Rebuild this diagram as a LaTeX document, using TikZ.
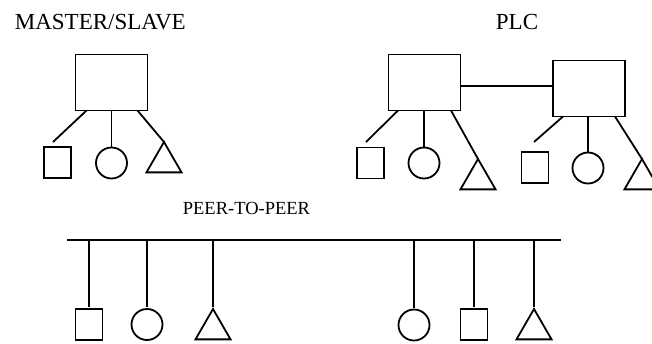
\documentclass[tikz,border=0pt]{standalone}
\usepackage{fontspec}
\setmainfont{Liberation Serif}
\usetikzlibrary{shapes.geometric,calc}
\begin{document}
\begin{tikzpicture}[x=1pt,y=-1pt,line width=1.8pt,
  box/.style={draw,rectangle,minimum width=72pt,minimum height=56pt,inner sep=0pt,outer sep=0pt},
  sq/.style={draw,rectangle,minimum width=27pt,minimum height=31pt,inner sep=0pt,outer sep=0pt},
  circ/.style={draw,circle,minimum size=31pt,inner sep=0pt,outer sep=0pt},
  tri/.style={draw,regular polygon,regular polygon sides=3,minimum size=40.5pt,inner sep=0pt,outer sep=0pt,anchor=corner 1},
  biglbl/.style={font=\fontsize{23}{23}\selectfont,inner sep=0pt,anchor=base west},
  smalllbl/.style={font=\fontsize{18.5}{18.5}\selectfont,inner sep=0pt,anchor=base west},
  drop/.style={shorten >=2pt}]
\useasboundingbox (0,0) rectangle (652,343);
\clip (0,0) rectangle (652,343);

% labels
\node[biglbl] (lms) at (14,29) {MASTER/SLAVE};
\node[biglbl] (lplc) at (495,29) {PLC};
\node[smalllbl] (lpp) at (182,214) {PEER-TO-PEER};

% master/slave
\node[box] (m) at (111.5,82.5) {};
\node[sq] (ms) at (57.5,162.5) {};
\coordinate (mse) at (53,142);
\node[circ] (mc) at (111.5,163) {};
\node[tri] (mt) at (164,142) {};
\draw ($(m.south)+(-25,0)$) -- (mse);
\draw (mc.north |- m.south) -- (mc.north);
\draw ($(m.south)+(26,0)$) -- (mt.corner 1);

% PLC
\node[box] (p1) at (424.5,82.5) {};
\node[box] (p2) at (589,88.5) {};
\draw ([yshift=-3.5pt]p1.east) -- ([yshift=2.5pt]p2.west);

\node[sq] (p1s) at (370.5,163) {};
\coordinate (p1e) at (366,142);
\node[circ] (p1c) at (424,163) {};
\node[tri] (p1t) at (478,159) {};
\draw ($(p1.south)+(-26.5,0)$) -- (p1e);
\draw (p1c.north |- p1.south) -- (p1c.north);
\draw ($(p1.south)+(26.5,0)$) -- (p1t.corner 1);

\node[sq] (p2s) at (535,167.5) {};
\coordinate (p2e) at (534,142);
\node[circ] (p2c) at (588,168) {};
\node[tri] (p2t) at (642,159) {};
\draw ($(p2.south)+(-26,0)$) -- (p2e);
\draw (p2c.north |- p2.south) -- (p2c.north);
\draw ($(p2.south)+(26,0)$) -- (p2t.corner 1);

% peer-to-peer
\coordinate (busL) at (67,240);
\coordinate (busR) at (561,240);
\draw (busL) -- (busR);

\node[sq] (q1) at (89,324.5) {};
\node[circ] (q2) at (147,324.5) {};
\node[tri] (q3) at (213,309) {};
\node[circ] (q4) at (414,325) {};
\node[sq] (q5) at (474,324.5) {};
\node[tri] (q6) at (534,309) {};

\draw[drop] (q1.north |- busL) -- (q1.north);
\draw[drop] (q2.north |- busL) -- (q2.north);
\draw[drop] (q3.corner 1 |- busL) -- (q3.corner 1);
\draw[drop] (q4.north |- busL) -- (q4.north);
\draw[drop] (q5.north |- busL) -- (q5.north);
\draw[drop] (q6.corner 1 |- busL) -- (q6.corner 1);
\end{tikzpicture}
\end{document}
